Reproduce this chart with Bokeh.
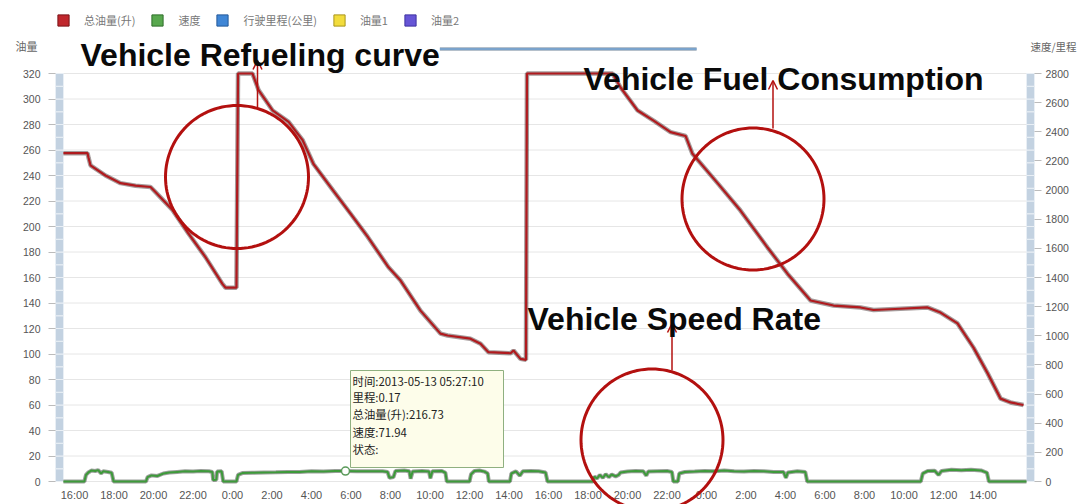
import numpy as np
from bokeh.plotting import figure
from bokeh.models import (Range1d, LinearAxis, FixedTicker, Label, Arrow, OpenHead,
                          BoxAnnotation, PolyAnnotation, Legend, LegendItem, ColumnDataSource)
from bokeh.embed import file_html
from bokeh.resources import INLINE

# ---------------- data (x = hours since 2013-05-12 16:00) ----------------
fuel_t = [-0.56, 0.66, 0.71, 0.81, 1.57, 2.33, 3.09, 3.85, 4.10, 4.96, 5.77, 6.63, 7.49, 7.65,
          8.20, 8.28, 9.01, 9.32, 10.03, 10.84, 11.54, 12.10, 13.11, 13.98, 14.84, 15.90, 16.51,
          17.52, 18.53, 18.89, 20.05, 20.56, 20.96, 22.08, 22.23, 22.58, 22.86, 22.91, 27.24,
          27.65, 28.51, 29.32, 30.18, 30.94, 31.29, 32.56, 33.72, 35.09, 36.10, 37.27, 38.43,
          39.80, 40.46, 41.82, 43.19, 43.85, 44.71, 45.52, 46.23, 46.89, 47.39, 48.05]
fuel_v = [257.5, 257.5, 254, 248, 240, 234, 232, 231, 227, 213, 194.5, 176, 155, 152,
          152, 320, 320, 307, 291, 282, 268, 249, 228, 210, 192, 168, 157.6,
          134, 116, 114.5, 112, 108, 101.4, 100.6, 102.7, 96.2, 95.4, 320, 320,
          309, 291, 283, 274, 271, 257, 234, 212.5, 183.5, 163, 142, 138,
          136.5, 134.5, 135.5, 136.5, 132.5, 124, 105, 85, 65, 62, 60]

speed_t = [-0.56,
           0.50, 0.58, 0.70, 0.85, 1.05, 1.20, 1.35, 1.45, 1.70, 1.88, 1.98,
           3.62, 3.70, 3.90, 4.20, 4.50, 4.80, 5.20, 5.60, 6.00, 6.40, 6.80, 6.98, 7.02, 7.18,
           7.22, 7.45, 7.53,
           8.20, 8.28, 8.50, 9.00, 9.60, 10.20, 10.80, 11.40, 12.00, 12.60, 13.20, 13.72, 14.30,
           15.00, 15.60, 15.85, 15.95, 16.15, 16.25, 16.70, 16.95, 17.02, 17.12, 17.60, 17.95,
           18.02, 18.12, 18.60, 18.78, 18.85,
           20.00, 20.08, 20.25, 20.50, 20.75, 20.92, 20.98,
           22.05, 22.12, 22.35, 22.55, 22.70, 23.10, 23.50, 23.85, 23.95,
           26.25, 26.32, 26.45, 26.60, 26.75, 26.90, 27.05, 27.20, 27.40,
           27.55, 27.65, 28.00, 28.40, 28.80, 28.95, 29.05, 29.50, 30.00, 30.25, 30.32,
           30.55, 30.62, 30.90, 31.40, 31.90, 32.40, 32.90, 33.40, 33.90, 34.40, 34.90, 35.40,
           35.90, 36.02, 36.12, 36.60, 37.00, 37.10,
           42.85, 42.95, 43.20, 43.55, 43.75, 43.90, 44.40, 44.90, 45.40, 45.90, 46.20, 46.30,
           48.20]
speed_v = [0,
           0, 45, 62, 75, 72, 78, 55, 70, 65, 60, 0,
           0, 30, 42, 38, 55, 62, 66, 70, 68, 72, 70, 65, 10, 12,
           68, 70, 0,
           0, 45, 58, 60, 62, 63, 66, 65, 70, 68, 72, 71.94, 70,
           70, 70, 66, 25, 30, 72, 75, 70, 20, 68, 72, 68,
           22, 70, 72, 60, 0,
           0, 50, 72, 75, 68, 55, 0,
           0, 55, 70, 40, 70, 72, 70, 62, 0,
           0, 35, 20, 45, 25, 50, 30, 48, 35,
           45, 62, 68, 72, 70, 40, 68, 70, 72, 65, 0,
           0, 55, 65, 68, 72, 70, 75, 70, 68, 72, 70, 66,
           65, 25, 62, 70, 66, 0,
           0, 55, 72, 74, 45, 72, 80, 78, 80, 76, 60, 0,
           0]

mileage_t = [18.50, 31.50]
mileage_v = [2968, 2968]

hover_t = [13.72]
hover_speed = [71.94]

x_ticks = list(range(0, 47, 2))
x_tick_labels = ["16:00", "18:00", "20:00", "22:00", "0:00", "2:00", "4:00", "6:00", "8:00",
                 "10:00", "12:00", "14:00", "16:00", "18:00", "20:00", "22:00", "0:00", "2:00",
                 "4:00", "6:00", "8:00", "10:00", "12:00", "14:00"]
left_ticks = list(range(0, 321, 20))
right_ticks = list(range(0, 2801, 200))
left_title = "油量"
right_title = "速度/里程"

legend_labels = ["总油量(升)", "速度", "行驶里程(公里)", "油量1", "油量2"]
legend_colors = ["#c0272d", "#58a84e", "#3f86d6", "#f2dc3c", "#6655d6"]
legend_edges = ["#7a1418", "#2f6e2a", "#245a9a", "#a8951c", "#3f33a0"]

tooltip_lines = ["时间:2013-05-13 05:27:10", "里程:0.17", "总油量(升):216.73", "速度:71.94", "状态:"]

# ---------------- geometry helpers (screen px of reference -> data) ----------------
X0, PXH = 74.0, 19.75      # screen x of hour 0, px per hour
Y0, PXV = 481.0, 1.275     # screen y of value 0, px per unit
RATIO = 8.75               # right axis / left axis
W, H = 1080, 504


def hx(px):
    return (px - X0) / PXH


def vy(py):
    return (Y0 - py) / PXV


# the frame covers the whole canvas; axes are pinned at the plot-area edges
p = figure(width=W, height=H, output_backend="svg", toolbar_location=None,
           x_range=Range1d(hx(0), hx(W)), y_range=Range1d(vy(H), vy(0)),
           x_axis_location=None, y_axis_location=None, min_border=0)
p.extra_y_ranges = {"right": Range1d(vy(H) * RATIO, vy(0) * RATIO)}
p.outline_line_color = None
p.background_fill_color = "white"
p.grid.visible = False


def style_axis(ax_, font, size, color, standoff, tick_out):
    ax_.major_tick_out = tick_out
    ax_.major_tick_in = 0
    ax_.major_tick_line_color = "#bbbbbb" if tick_out else None
    ax_.minor_tick_line_color = None
    ax_.axis_line_color = None
    ax_.major_label_standoff = standoff
    ax_.major_label_text_font = font
    ax_.major_label_text_font_size = size
    ax_.major_label_text_color = color


xa = LinearAxis(fixed_location=0, ticker=FixedTicker(ticks=x_ticks),
                major_label_overrides={t: l for t, l in zip(x_ticks, x_tick_labels)})
style_axis(xa, "Liberation Sans", "11px", "#555555", 7, 0)
p.add_layout(xa, "below")

la = LinearAxis(fixed_location=hx(55), ticker=FixedTicker(ticks=left_ticks))
style_axis(la, "Liberation Sans", "10.5px", "#555555", 8, 7)
p.add_layout(la, "left")

ra = LinearAxis(y_range_name="right", fixed_location=hx(1034), ticker=FixedTicker(ticks=right_ticks))
style_axis(ra, "Liberation Sans", "10.5px", "#555555", 4, 7)
p.add_layout(ra, "right")

lt_val = vy(45)
lt = LinearAxis(fixed_location=hx(55), ticker=FixedTicker(ticks=[lt_val]),
                major_label_overrides={lt_val: left_title})
style_axis(lt, "Noto Sans CJK SC", "11px", "#666666", 18, 0)
p.add_layout(lt, "left")

rt_val = vy(46) * RATIO
rt = LinearAxis(y_range_name="right", fixed_location=hx(1030), ticker=FixedTicker(ticks=[rt_val]),
                major_label_overrides={rt_val: right_title})
style_axis(rt, "Noto Sans CJK SC", "10.5px", "#666666", 0, 0)
p.add_layout(rt, "right")

# horizontal grid lines at the left-axis ticks, between the two side bars
p.segment(x0=[hx(63)] * len(left_ticks), x1=[hx(1026)] * len(left_ticks),
          y0=left_ticks, y1=left_ticks, line_color="#e6e6e6", line_width=1)

# side bars (decoration)
seg = np.arange(0, 320, 10)
for a, b in [(55, 63), (1026, 1034)]:
    p.quad(left=[hx(a)] * len(seg), right=[hx(b)] * len(seg), bottom=seg, top=seg + 10,
           fill_color="#c3d2e1", line_color="#e9eff5", line_width=1)

# series
p.line(fuel_t, fuel_v, line_color="#3a2424", line_alpha=0.45, line_width=4.5)
p.line(fuel_t, fuel_v, line_color="#b01a1e", line_width=2.2)

p.line(speed_t, speed_v, y_range_name="right", line_color="#1e2a1e", line_alpha=0.45, line_width=4)
p.line(speed_t, speed_v, y_range_name="right", line_color="#3d9a3a", line_width=2)

p.line(mileage_t, mileage_v, y_range_name="right", line_color="#2c4a6a", line_alpha=0.35, line_width=4)
p.line(mileage_t, mileage_v, y_range_name="right", line_color="#7aa3cc", line_width=2)

p.scatter(hover_t, hover_speed, y_range_name="right", size=8, fill_color="white",
          line_color="#5a9a5a", line_width=1.5)

# legend swatches (one off-canvas dummy box each, only to feed the legend)
items = []
off = hx(W) + 5
for lab, c, e in zip(legend_labels, legend_colors, legend_edges):
    src = ColumnDataSource(dict(l=[off], r=[off + 1], b=[0], t=[1]))
    q = p.quad(left="l", right="r", bottom="b", top="t", source=src, fill_color=c, line_color=e)
    items.append(LegendItem(label=lab, renderers=[q]))
leg = Legend(items=items, orientation="horizontal", location=(56, H - 28), margin=0, padding=4,
             spacing=15, glyph_width=14, glyph_height=14, label_height=14, label_standoff=14,
             label_text_font_size="11px", label_text_color="#777777",
             label_text_font="Noto Sans CJK SC", border_line_color=None, background_fill_alpha=0)
p.add_layout(leg)

# tooltip
p.add_layout(BoxAnnotation(left=hx(350), right=hx(503), top=vy(370), bottom=vy(467),
                           fill_color="#fdfdea", fill_alpha=1, line_color="#8fb080", line_width=1,
                           line_alpha=1))
for txt, py in zip(tooltip_lines, [380, 396, 413, 431, 448]):
    p.add_layout(Label(x=hx(352), y=vy(py), text=txt, text_baseline="middle",
                       text_font="Noto Sans CJK SC", text_font_size="11.4px", text_color="#222222"))

# annotation circles + arrows + captions
RED = "#b3100f"
th = np.linspace(0, 2 * np.pi, 121)
for cx, cy, r in [(236.5, 176.5, 71.5), (752.5, 198.5, 71), (651.5, 439.5, 71)]:
    p.add_layout(PolyAnnotation(xs=[float(v) for v in hx(cx + r * np.cos(th))],
                                ys=[float(v) for v in vy(cy + r * np.sin(th))],
                                fill_color=None, fill_alpha=0, line_color=RED, line_alpha=1,
                                line_width=3))
for ax, y1, y2 in [(257, 107, 60), (772.5, 128, 80), (671.5, 370, 323)]:
    p.add_layout(Arrow(end=OpenHead(size=9, line_color=RED, line_width=1.5),
                       x_start=hx(ax), y_start=vy(y1), x_end=hx(ax), y_end=vy(y2),
                       line_color=RED, line_width=1.5))
for txt, px, py in [("Vehicle Refueling curve", 80, 54), ("Vehicle Fuel Consumption", 583, 78),
                    ("Vehicle Speed Rate", 527, 318)]:
    p.add_layout(Label(x=hx(px), y=vy(py), text=txt, text_baseline="alphabetic",
                       text_font="Liberation Sans", text_font_style="bold",
                       text_font_size="32px", text_color="#0a0a0a"))

open("out.html", "w").write(file_html(p, INLINE))
